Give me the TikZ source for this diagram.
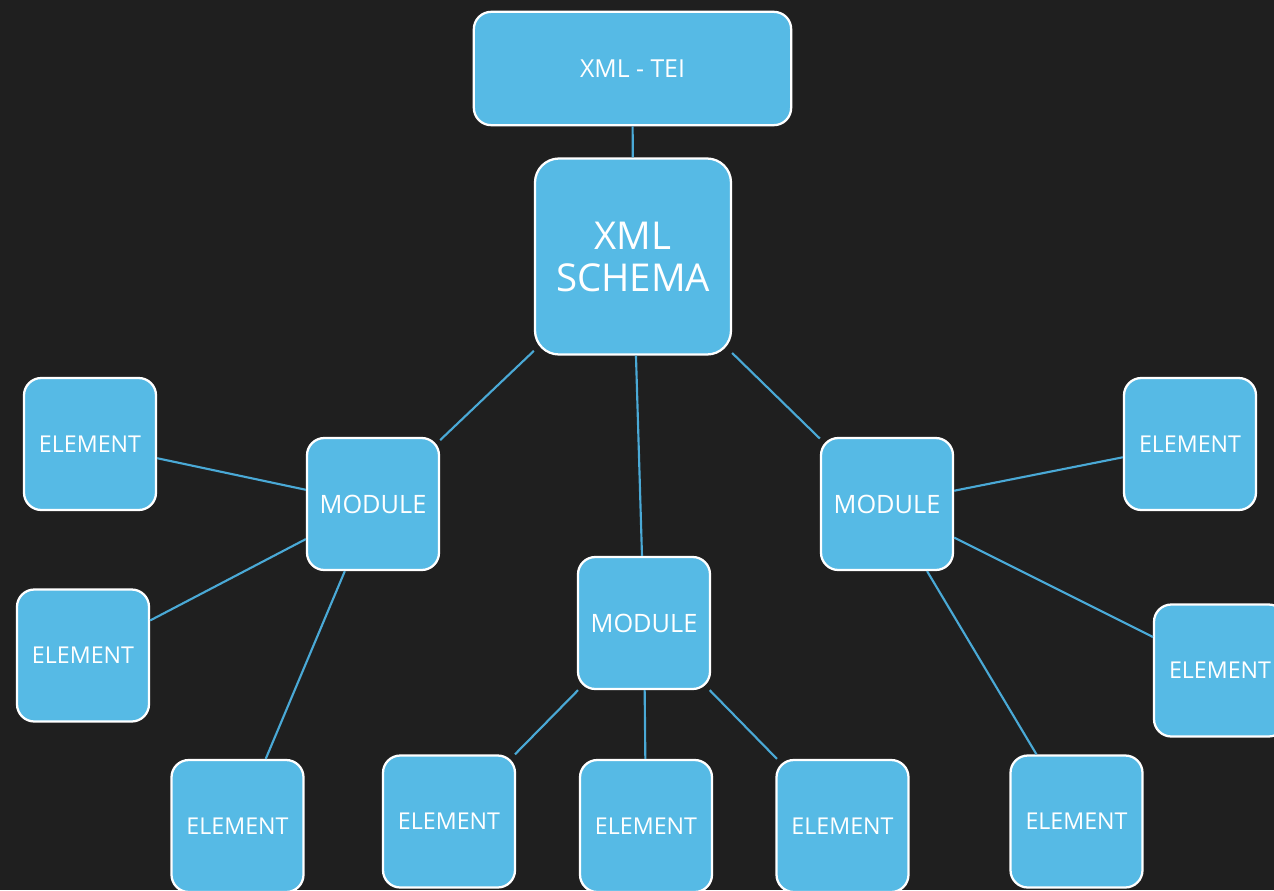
\documentclass[tikz,border=0pt]{standalone}
\usepackage{fontspec}
\setsansfont{Open Sans}
\usepackage{tikz}
\usetikzlibrary{positioning}
\definecolor{cboard}{HTML}{1F1F1F}
\definecolor{cbox}{HTML}{56BAE5}
\definecolor{cline}{HTML}{4AA9D6}
\tikzset{
  xcard/.style={rectangle, rounded corners=13pt, draw=white, fill=cbox,
                line width=1.7pt, text=white, align=center, inner sep=2pt,
                minimum width=99pt, minimum height=99pt},
  xel/.style={xcard, font=\sffamily\fontsize{17.4}{20}\selectfont},
  xmod/.style={xcard, font=\sffamily\fontsize{19}{22}\selectfont},
  xroot/.style={xcard, rounded corners=18pt, minimum width=147pt, minimum height=147pt,
                font=\sffamily\fontsize{28.8}{31.5}\selectfont},
  xtop/.style={xcard, minimum width=238pt, minimum height=85pt,
               font=\sffamily\fontsize{18.6}{21}\selectfont},
  xfl/.style={draw=cline, line width=1.6pt}
}

\begin{document}
\begin{tikzpicture}[x=0.75pt, y=-0.75pt]

\useasboundingbox (0,0) rectangle (1274,890);
\clip (0,0) rectangle (1274,890);
\fill[cboard] (0,0) rectangle (1274,890);

% top of the tree
\node[xtop] (tei) at (632.5,68.5) {XML - TEI};
\node[xroot] (schema) at (633,256.5) {XML\\SCHEMA};

% modules
\node[xmod] (modL) at (373,504) {MODULE};
\node[xmod] (modC) at (644,623) {MODULE};
\node[xmod] (modR) at (887,504) {MODULE};

% elements
\node[xel] (elA) at (90,444) {ELEMENT};
\node[xel] (elB) at (83,655.5) {ELEMENT};
\node[xel] (elC) at (237.5,826) {ELEMENT};
\node[xel] (elD) at (449,821.5) {ELEMENT};
\node[xel] (elE) at (646,826) {ELEMENT};
\node[xel] (elF) at (842.5,826) {ELEMENT};
\node[xel] (elG) at (1076.5,821.5) {ELEMENT};
\node[xel] (elH) at (1220,670.5) {ELEMENT};
\node[xel] (elI) at (1190,444) {ELEMENT};

\draw[xfl] (tei) -- (schema);
\draw[xfl] (schema) -- (modL);
\draw[xfl] (schema) -- (modC);
\draw[xfl] (schema) -- (modR);

\draw[xfl] (modL) -- (elA);
\draw[xfl] (modL) -- (elB);
\draw[xfl] (modL) -- (elC);

\draw[xfl] (modC) -- (elD);
\draw[xfl] (modC) -- (elE);
\draw[xfl] (modC) -- (elF);

\draw[xfl] (modR) -- (elI);
\draw[xfl] (modR) -- (elH);
\draw[xfl] (modR) -- (elG);

\end{tikzpicture}
\end{document}
